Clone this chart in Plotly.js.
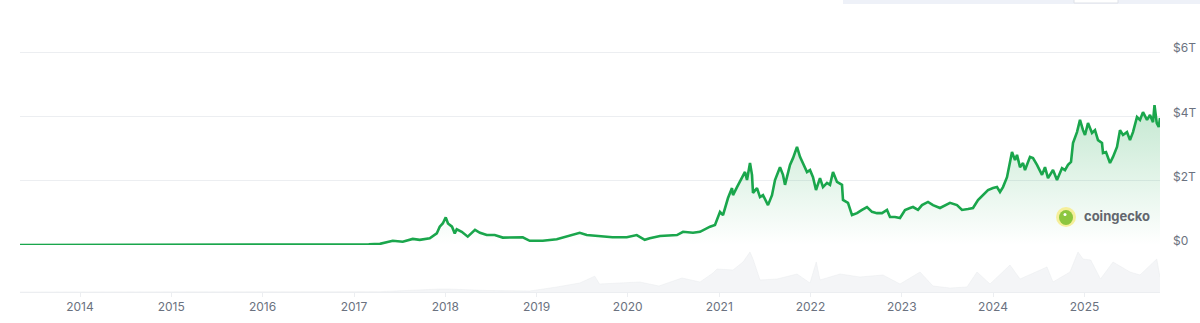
<!DOCTYPE html>
<html>
<head>
<meta charset="utf-8">
<script src="https://cdn.plot.ly/plotly-3.0.1.min.js"></script>
<style>
  html, body { margin: 0; padding: 0; background: #ffffff; }
  #chart { width: 1200px; height: 323px; }
</style>
</head>
<body>
<div id="chart"></div>
<script>
// Total crypto market cap (trillions USD)
const dates = [
  '2013-05-06','2013-08-01','2013-10-15','2013-11-30','2014-01-01','2014-03-01','2014-06-01','2014-09-01',
  '2015-01-01','2015-06-01','2015-11-05','2016-01-01','2016-06-15','2016-10-01','2017-01-01','2017-03-01',
  '2017-04-15','2017-06-05','2017-07-15','2017-08-24','2017-09-21','2017-10-31','2017-11-28','2017-12-10',
  '2017-12-22','2018-01-03','2018-01-12','2018-01-28','2018-02-08','2018-02-16','2018-03-08','2018-04-01',
  '2018-04-30','2018-05-20','2018-06-16','2018-07-18','2018-08-19','2018-09-28','2018-11-07','2018-12-05',
  '2019-01-26','2019-03-23','2019-05-14','2019-06-23','2019-07-21','2019-09-10','2019-11-01','2019-12-28',
  '2020-02-06','2020-03-09','2020-03-29','2020-05-09','2020-07-16','2020-08-09','2020-09-18','2020-10-16',
  '2020-11-25','2020-12-15','2021-01-04','2021-01-16','2021-02-05','2021-02-21','2021-02-25','2021-03-13',
  '2021-04-02','2021-04-14','2021-04-22','2021-05-04','2021-05-12','2021-05-16','2021-06-01','2021-06-13',
  '2021-06-25','2021-07-15','2021-07-31','2021-08-12','2021-09-01','2021-09-13','2021-09-21','2021-10-11',
  '2021-10-23','2021-11-08','2021-11-20','2021-12-02','2021-12-18','2021-12-30','2022-01-11','2022-01-23',
  '2022-02-08','2022-02-20','2022-03-08','2022-03-20','2022-04-01','2022-04-17','2022-05-07','2022-05-11',
  '2022-05-31','2022-06-16','2022-07-06','2022-07-26','2022-08-15','2022-09-04','2022-09-24','2022-10-14',
  '2022-11-03','2022-11-15','2022-12-05','2022-12-25','2023-01-14','2023-02-03','2023-02-15','2023-03-07',
  '2023-03-23','2023-04-16','2023-05-06','2023-06-03','2023-06-23','2023-07-13','2023-08-10','2023-08-30',
  '2023-09-23','2023-10-13','2023-11-02','2023-11-22','2023-12-12','2024-01-01','2024-01-17','2024-01-29',
  '2024-02-10','2024-02-26','2024-03-09','2024-03-17','2024-03-29','2024-04-06','2024-04-18','2024-04-30',
  '2024-05-08','2024-05-28','2024-06-09','2024-06-25','2024-07-15','2024-07-27','2024-08-08','2024-08-28',
  '2024-09-13','2024-10-03','2024-10-15','2024-10-27','2024-11-08','2024-11-16','2024-12-02','2024-12-14',
  '2024-12-26','2025-01-03','2025-01-15','2025-01-31','2025-02-12','2025-02-24','2025-03-12','2025-03-16',
  '2025-03-28','2025-04-13','2025-04-25','2025-05-11','2025-05-23','2025-06-04','2025-06-20','2025-07-02',
  '2025-07-14','2025-07-30','2025-08-11','2025-08-23','2025-09-08','2025-09-20','2025-10-02','2025-10-08',
  '2025-10-17','2025-10-25','2025-10-30'
];
const marketCapT = [
  0.0013,0.0012,0.002,0.013,0.0095,0.008,0.0085,0.0065,
  0.0045,0.0035,0.006,0.0065,0.012,0.010,0.017,0.022,
  0.035,0.13,0.10,0.19,0.16,0.21,0.36,0.57,
  0.67,0.86,0.67,0.57,0.36,0.49,0.41,0.26,
  0.47,0.38,0.31,0.31,0.23,0.24,0.24,0.13,
  0.13,0.18,0.28,0.38,0.31,0.28,0.24,0.24,
  0.31,0.16,0.21,0.28,0.31,0.41,0.38,0.41,
  0.57,0.62,1.03,0.93,1.46,1.77,1.55,1.80,
  2.11,2.27,2.02,2.55,2.18,1.62,1.77,1.49,
  1.55,1.24,1.55,2.02,2.42,2.18,1.87,2.49,
  2.70,3.05,2.74,2.55,2.27,2.33,2.11,1.71,
  2.08,1.80,1.93,1.87,2.27,1.96,1.87,1.40,
  1.31,0.93,0.99,1.09,1.18,1.03,0.99,0.99,
  1.09,0.87,0.87,0.84,1.09,1.15,1.18,1.09,
  1.24,1.34,1.24,1.15,1.24,1.31,1.24,1.09,
  1.12,1.15,1.40,1.55,1.71,1.77,1.80,1.65,
  1.80,2.11,2.64,2.89,2.64,2.80,2.42,2.55,
  2.33,2.74,2.70,2.49,2.18,2.42,2.08,2.33,
  2.02,2.39,2.33,2.49,2.58,3.17,3.51,3.89,
  3.57,3.42,3.79,3.48,3.57,3.26,3.17,2.86,
  2.89,2.55,2.74,3.05,3.57,3.42,3.51,3.26,
  3.51,3.98,3.89,4.13,3.89,4.04,3.82,4.35,
  3.79,3.67,3.95
];

// 24h trading volume (billions USD), read from the grey area
const volDates = [
  '2013-05-06','2017-04-15','2017-12-10','2018-01-12','2018-06-16','2018-12-05','2019-03-23','2019-06-23',
  '2019-08-22','2019-09-10','2020-02-18','2020-05-05','2020-08-05','2020-10-16','2020-12-07','2020-12-23',
  '2021-02-25','2021-04-06','2021-05-04','2021-05-16','2021-06-13','2021-08-20','2021-11-08','2021-12-30',
  '2022-01-24','2022-02-08','2022-04-29','2022-07-18','2022-10-18','2022-12-25','2023-03-15','2023-05-06',
  '2023-07-13','2023-09-19','2023-10-29','2023-12-20','2024-03-09','2024-04-18','2024-08-04','2024-08-28',
  '2024-11-04','2024-12-06','2024-12-26','2025-01-26','2025-03-06','2025-04-25','2025-07-02','2025-08-11',
  '2025-10-17','2025-10-30'
];
const volumeB = [
  0,4,36,36,18,12,60,108,
  190,96,120,72,168,120,228,276,
  264,360,480,396,144,156,216,108,
  360,144,216,180,204,96,240,72,
  48,60,240,96,324,156,300,120,
  240,480,396,384,156,360,240,204,
  396,180
];

const yearLabels = ['2014','2015','2016','2017','2018','2019','2020','2021','2022','2023','2024','2025'];
const capTickVals = [0, 2, 4, 6];
const capTickText = ['$0', '$2T', '$4T', '$6T'];

const green = '#1aa64c';
const gridC = '#eceef1';
const textC = '#6b7280';

const traces = [
  {
    type: 'scatter', mode: 'lines',
    x: volDates, y: volumeB, yaxis: 'y2',
    fill: 'tozeroy', fillcolor: 'rgba(236,238,241,0.6)',
    line: { color: 'rgba(226,229,233,0.6)', width: 0.6 },
    hoverinfo: 'skip', showlegend: false
  },
  {
    type: 'scatter', mode: 'lines',
    x: dates, y: marketCapT, yaxis: 'y',
    fill: 'tozeroy',
    fillgradient: {
      type: 'vertical',
      colorscale: [[0, 'rgba(26,166,76,0.0)'], [1, 'rgba(26,166,76,0.26)']]
    },
    line: { color: green, width: 2.6 },
    hoverinfo: 'skip', showlegend: false
  }
];

const layout = {
  width: 1200, height: 323,
  margin: { l: 20, r: 40, t: 20, b: 31 },
  paper_bgcolor: '#ffffff', plot_bgcolor: '#ffffff',
  font: { family: 'Inter, "Open Sans", sans-serif', size: 12, color: textC },
  showlegend: false,
  xaxis: {
    type: 'date',
    range: ['2013-05-06', '2025-10-30'],
    anchor: 'y2',
    tickvals: yearLabels.map(y => y + '-01-01'),
    ticktext: yearLabels,
    ticks: 'outside', ticklen: 4, tickcolor: gridC, tickwidth: 1,
    showgrid: false, zeroline: false,
    showline: true, linecolor: gridC, linewidth: 1,
    tickfont: { size: 12, color: textC },
    fixedrange: true
  },
  yaxis: {
    domain: [0.1728, 1],
    range: [0, 6.995],
    side: 'right',
    anchor: 'x',
    tickvals: capTickVals,
    ticktext: capTickText,
    ticks: '',
    showgrid: true, gridcolor: gridC, gridwidth: 1,
    zeroline: false, showline: false,
    ticklabelstandoff: 12,
    ticklabelshift: -4,
    tickfont: { size: 12, color: textC },
    fixedrange: true
  },
  yaxis2: {
    domain: [0, 0.1728],
    range: [0, 564],
    anchor: 'x',
    visible: false,
    fixedrange: true
  },
  shapes: [
    // cut-off toolbar strip at top right
    { type: 'rect', xref: 'paper', yref: 'paper', x0: (843-20)/1140, x1: (1200-20)/1140,
      y0: (292-4)/272, y1: (292+2)/272 + 0.05, fillcolor: '#eef1f8', line: { width: 0 }, layer: 'above' },
    { type: 'rect', xref: 'paper', yref: 'paper', x0: (1074-20)/1140, x1: (1118-20)/1140,
      y0: (292-3)/272, y1: (292+4)/272 + 0.05, fillcolor: '#ffffff', line: { color: '#dfe2e8', width: 1 }, layer: 'above' },
    // coingecko logo
    { type: 'circle', xref: 'paper', yref: 'paper', xsizemode: 'pixel', ysizemode: 'pixel',
      xanchor: (1066-20)/1140, yanchor: (292-217)/272, x0: -10, x1: 10, y0: -10, y1: 10,
      fillcolor: '#f5ef9a', line: { width: 0 }, layer: 'above' },
    { type: 'circle', xref: 'paper', yref: 'paper', xsizemode: 'pixel', ysizemode: 'pixel',
      xanchor: (1066-20)/1140, yanchor: (292-217)/272, x0: -7, x1: 7, y0: -8, y1: 7,
      fillcolor: '#8cc63f', line: { width: 0 }, layer: 'above' },
    { type: 'circle', xref: 'paper', yref: 'paper', xsizemode: 'pixel', ysizemode: 'pixel',
      xanchor: (1066-20)/1140, yanchor: (292-217)/272, x0: -2.5, x1: 0.5, y0: 1, y1: 4,
      fillcolor: '#ffffff', line: { width: 0 }, layer: 'above' }
  ],
  annotations: [
    { xref: 'paper', yref: 'paper', x: (1082-20)/1140, y: (292-216)/272,
      xanchor: 'left', yanchor: 'middle', showarrow: false,
      text: '<b>coingecko</b>', font: { size: 13, color: '#62666d', family: 'Inter, sans-serif' } }
  ]
};

Plotly.newPlot('chart', traces, layout, { displayModeBar: false, staticPlot: true });
</script>
</body>
</html>
